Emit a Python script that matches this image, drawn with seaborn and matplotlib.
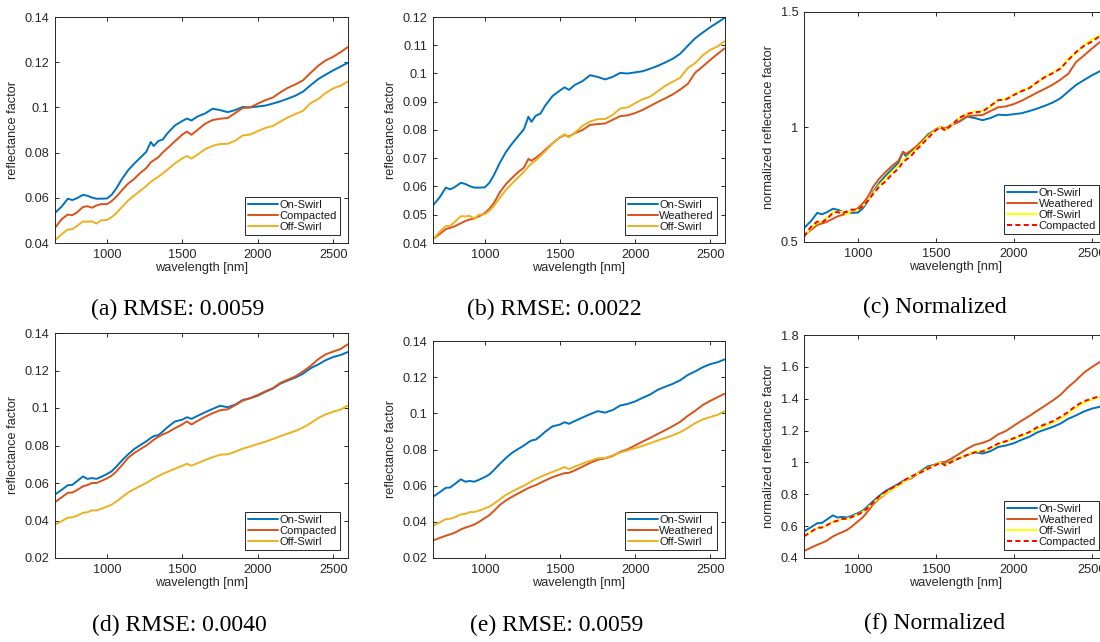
import numpy as np
import pandas as pd
import matplotlib
matplotlib.use("Agg")
import matplotlib.pyplot as plt
from matplotlib.ticker import FuncFormatter, FixedLocator
import seaborn as sns

# ---------------- data ----------------
WL = [655, 700, 740, 770, 800, 840, 870, 900, 930, 960, 1000, 1030, 1060, 1100,
      1140, 1180, 1220, 1260, 1290, 1310, 1340, 1370, 1400, 1450, 1500, 1530,
      1560, 1600, 1650, 1700, 1750, 1800, 1850, 1900, 1950, 2000, 2050, 2100,
      2150, 2200, 2250, 2300, 2350, 2400, 2450, 2500, 2550, 2595]

# top row (a), (b)
on_swirl_1 = [0.0533, 0.0562, 0.0596, 0.0590, 0.0598, 0.0613, 0.0609, 0.0601, 0.0596, 0.0596,
              0.0597, 0.0613, 0.0640, 0.0684, 0.0722, 0.0751, 0.0777, 0.0803, 0.0847, 0.0829,
              0.0851, 0.0858, 0.0885, 0.0920, 0.0940, 0.0951, 0.0942, 0.0960, 0.0973, 0.0994,
              0.0988, 0.0979, 0.0988, 0.1002, 0.1000, 0.1004, 0.1008, 0.1017, 0.1027, 0.1039,
              0.1052, 0.1070, 0.1098, 0.1125, 0.1145, 0.1164, 0.1181, 0.1197]
compacted_1 = [0.0467, 0.0506, 0.0526, 0.0523, 0.0535, 0.0559, 0.0563, 0.0556, 0.0566, 0.0572,
               0.0572, 0.0585, 0.0604, 0.0634, 0.0663, 0.0683, 0.0710, 0.0731, 0.0757, 0.0766,
               0.0779, 0.0801, 0.0819, 0.0850, 0.0880, 0.0893, 0.0879, 0.0900, 0.0928, 0.0944,
               0.0950, 0.0953, 0.0975, 0.0997, 0.1000, 0.1017, 0.1032, 0.1044, 0.1067, 0.1087,
               0.1102, 0.1120, 0.1153, 0.1184, 0.1208, 0.1224, 0.1245, 0.1266]
off_swirl_1 = [0.0412, 0.0440, 0.0460, 0.0461, 0.0475, 0.0495, 0.0494, 0.0496, 0.0486, 0.0500,
               0.0502, 0.0514, 0.0531, 0.0560, 0.0588, 0.0610, 0.0631, 0.0652, 0.0671, 0.0680,
               0.0693, 0.0708, 0.0724, 0.0752, 0.0775, 0.0785, 0.0774, 0.0791, 0.0815, 0.0830,
               0.0838, 0.0839, 0.0853, 0.0876, 0.0880, 0.0895, 0.0909, 0.0918, 0.0937, 0.0956,
               0.0971, 0.0985, 0.1019, 0.1037, 0.1064, 0.1084, 0.1096, 0.1114]
weathered_1 = [0.0414, 0.0432, 0.0449, 0.0454, 0.0459, 0.0470, 0.0478, 0.0483, 0.0487, 0.0494,
               0.0506, 0.0521, 0.0541, 0.0580, 0.0608, 0.0630, 0.0650, 0.0667, 0.0698, 0.0691,
               0.0702, 0.0714, 0.0729, 0.0753, 0.0774, 0.0782, 0.0777, 0.0789, 0.0800, 0.0818,
               0.0821, 0.0823, 0.0836, 0.0849, 0.0852, 0.0860, 0.0871, 0.0885, 0.0899, 0.0912,
               0.0926, 0.0943, 0.0963, 0.1003, 0.1025, 0.1048, 0.1070, 0.1089]

# bottom row (d), (e)
on_swirl_2 = [0.0539, 0.0564, 0.0588, 0.0590, 0.0609, 0.0635, 0.0622, 0.0626, 0.0622, 0.0632,
              0.0648, 0.0662, 0.0686, 0.0721, 0.0753, 0.0781, 0.0802, 0.0822, 0.0840, 0.0850,
              0.0855, 0.0875, 0.0897, 0.0928, 0.0938, 0.0951, 0.0942, 0.0958, 0.0977, 0.0995,
              0.1012, 0.1004, 0.1018, 0.1043, 0.1052, 0.1066, 0.1086, 0.1104, 0.1130, 0.1147,
              0.1163, 0.1183, 0.1212, 0.1232, 0.1255, 0.1272, 0.1283, 0.1298]
compacted_2 = [0.0498, 0.0524, 0.0548, 0.0549, 0.0562, 0.0582, 0.0589, 0.0600, 0.0600, 0.0610,
               0.0625, 0.0639, 0.0660, 0.0696, 0.0734, 0.0760, 0.0780, 0.0800, 0.0818, 0.0831,
               0.0846, 0.0859, 0.0869, 0.0892, 0.0913, 0.0929, 0.0912, 0.0931, 0.0953, 0.0972,
               0.0988, 0.0993, 0.1015, 0.1039, 0.1053, 0.1070, 0.1089, 0.1106, 0.1134, 0.1151,
               0.1169, 0.1195, 0.1224, 0.1260, 0.1286, 0.1301, 0.1315, 0.1339]
off_swirl_2 = [0.0378, 0.0397, 0.0415, 0.0417, 0.0425, 0.0441, 0.0444, 0.0454, 0.0454, 0.0462,
               0.0474, 0.0484, 0.0500, 0.0525, 0.0549, 0.0567, 0.0584, 0.0600, 0.0614, 0.0624,
               0.0637, 0.0649, 0.0659, 0.0676, 0.0692, 0.0703, 0.0692, 0.0706, 0.0722, 0.0737,
               0.0751, 0.0753, 0.0767, 0.0783, 0.0795, 0.0808, 0.0820, 0.0835, 0.0850, 0.0864,
               0.0878, 0.0896, 0.0919, 0.0946, 0.0966, 0.0980, 0.0992, 0.1012]
weathered_2 = [0.0297, 0.0311, 0.0323, 0.0331, 0.0340, 0.0358, 0.0368, 0.0376, 0.0385, 0.0399,
               0.0421, 0.0437, 0.0460, 0.0494, 0.0518, 0.0538, 0.0556, 0.0574, 0.0587, 0.0594,
               0.0603, 0.0616, 0.0628, 0.0647, 0.0661, 0.0669, 0.0671, 0.0685, 0.0705, 0.0726,
               0.0743, 0.0751, 0.0764, 0.0787, 0.0801, 0.0823, 0.0844, 0.0864, 0.0886, 0.0907,
               0.0929, 0.0953, 0.0986, 0.1014, 0.1046, 0.1069, 0.1090, 0.1108]

NORM_WL = 1530  # reference wavelength for the normalized panels

captions = ["(a) RMSE: 0.0059", "(b) RMSE: 0.0022", "(c) Normalized",
            "(d) RMSE: 0.0040", "(e) RMSE: 0.0059", "(f) Normalized"]

# ---------------- style ----------------
BLUE, ORANGE, GOLD = "#0072BD", "#D95319", "#EDB120"
YELLOW, RED = "#FFFF00", "#FF0000"
AXC = "#262626"

sns.set_theme(style="ticks")
plt.rcParams.update({
    "font.family": ["Liberation Sans", "DejaVu Sans"],
    "axes.edgecolor": AXC, "axes.linewidth": 0.7,
    "xtick.color": AXC, "ytick.color": AXC,
    "xtick.labelcolor": AXC, "ytick.labelcolor": AXC,
    "axes.labelcolor": AXC,
    "xtick.direction": "in", "ytick.direction": "in",
    "xtick.top": True, "ytick.right": True,
    "xtick.major.size": 2.6, "ytick.major.size": 2.6,
    "xtick.major.width": 0.7, "ytick.major.width": 0.7,
    "xtick.labelsize": 9.2, "ytick.labelsize": 9.2,
    "axes.labelsize": 9.2,
})

W, H = 1100, 642
fig = plt.figure(figsize=(W / 100, H / 100), dpi=100)
fig.patch.set_facecolor("white")


def pos(l, t, r, b):
    return [l / W, 1 - b / H, (r - l) / W, (b - t) / H]


fmt = FuncFormatter(lambda v, p: "%g" % round(v, 6))


def norm(vals):
    arr = np.asarray(vals, dtype=float)
    return arr / arr[WL.index(NORM_WL)]


def panel(rect, series, ylim, yticks, ylabel):
    ax = fig.add_axes(rect)
    for label, vals, color, dashed in series:
        kw = dict(linestyle=(0, (2.6, 1.7))) if dashed else {}
        sns.lineplot(x=WL, y=list(vals), ax=ax, color=color, linewidth=1.4,
                     label=label, errorbar=None, **kw)
    ax.set_xlim(655, 2598)
    ax.set_ylim(*ylim)
    ax.xaxis.set_major_locator(FixedLocator([1000, 1500, 2000, 2500]))
    ax.yaxis.set_major_locator(FixedLocator(yticks))
    ax.yaxis.set_major_formatter(fmt)
    ax.set_xlabel("wavelength [nm]", labelpad=1)
    ax.set_ylabel(ylabel, labelpad=4)
    ax.tick_params(which="both", top=True, right=True, direction="in", pad=4)
    for s in ax.spines.values():
        s.set_visible(True)
        s.set_color(AXC)
    leg = ax.legend(loc="lower right", fontsize=8, frameon=True, fancybox=False,
                    framealpha=1, edgecolor=AXC, borderpad=0.3, labelspacing=0.08,
                    handlelength=2.7, handletextpad=0.12, borderaxespad=0.7)
    leg.get_frame().set_linewidth(0.7)
    for t in leg.get_texts():
        t.set_color("#1a1a1a")
    return ax


panel(pos(55, 17, 348, 243),
      [("On-Swirl", on_swirl_1, BLUE, False), ("Compacted", compacted_1, ORANGE, False),
       ("Off-Swirl", off_swirl_1, GOLD, False)],
      (0.04, 0.14), [0.04, 0.06, 0.08, 0.10, 0.12, 0.14], "reflectance factor")
panel(pos(433, 17, 725, 243),
      [("On-Swirl", on_swirl_1, BLUE, False), ("Weathered", weathered_1, ORANGE, False),
       ("Off-Swirl", off_swirl_1, GOLD, False)],
      (0.04, 0.12), [0.04, 0.05, 0.06, 0.07, 0.08, 0.09, 0.10, 0.11, 0.12], "reflectance factor")
panel(pos(804, 12, 1107, 242),
      [("On-Swirl", norm(on_swirl_1), BLUE, False), ("Weathered", norm(weathered_1), ORANGE, False),
       ("Off-Swirl", norm(off_swirl_1), YELLOW, False), ("Compacted", norm(compacted_1), RED, True)],
      (0.5, 1.5), [0.5, 1.0, 1.5], "normalized reflectance factor")
panel(pos(55, 333, 348, 558),
      [("On-Swirl", on_swirl_2, BLUE, False), ("Compacted", compacted_2, ORANGE, False),
       ("Off-Swirl", off_swirl_2, GOLD, False)],
      (0.02, 0.14), [0.02, 0.04, 0.06, 0.08, 0.10, 0.12, 0.14], "reflectance factor")
panel(pos(433, 341, 725, 558),
      [("On-Swirl", on_swirl_2, BLUE, False), ("Weathered", weathered_2, ORANGE, False),
       ("Off-Swirl", off_swirl_2, GOLD, False)],
      (0.02, 0.14), [0.02, 0.04, 0.06, 0.08, 0.10, 0.12, 0.14], "reflectance factor")
panel(pos(804, 335, 1107, 558),
      [("On-Swirl", norm(on_swirl_2), BLUE, False), ("Weathered", norm(weathered_2), ORANGE, False),
       ("Off-Swirl", norm(off_swirl_2), YELLOW, False), ("Compacted", norm(compacted_2), RED, True)],
      (0.4, 1.8), [0.4, 0.6, 0.8, 1.0, 1.2, 1.4, 1.6, 1.8], "normalized reflectance factor")

cap_xy = [(178, 309), (554, 309), (935, 307), (179, 625), (557, 625), (935, 623)]
for txt, (cx, cy) in zip(captions, cap_xy):
    fig.text(cx / W, 1 - cy / H, txt, ha="center", va="center",
             family=["Liberation Serif", "DejaVu Serif"], fontsize=17, color="black")

fig.savefig("out.png", dpi=100, facecolor="white")
